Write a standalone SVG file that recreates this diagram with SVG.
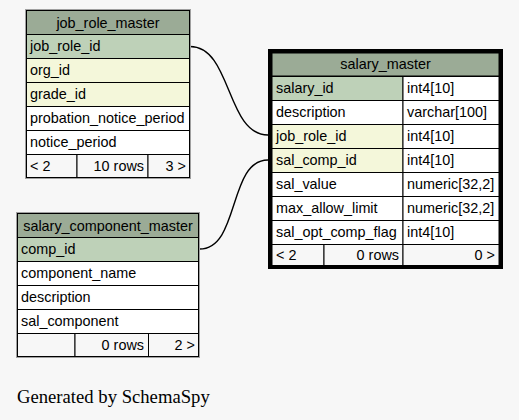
<svg xmlns="http://www.w3.org/2000/svg" width="519" height="420" viewBox="0 0 519 420">
<style>
.t{font-family:"Liberation Sans",Arial,sans-serif;font-size:14.4px;fill:#000}
.c{text-anchor:middle}
.r{text-anchor:end}
.hd{fill:#9bab96}
.pk{fill:#bed1b8}
.fk{fill:#f4f7da}
.wt{fill:#ffffff}
.ft{fill:#f7f7f7}
.cell{stroke:#000;stroke-width:1}
.outer{fill:none;stroke:#a0a0a0;stroke-width:1}
.focus{fill:none;stroke:#000;stroke-width:4}
.edge{fill:none;stroke:#000;stroke-width:1.4}
.gen{font-family:"Liberation Serif","Times New Roman",serif;font-size:18.67px;fill:#000}
</style>
<rect x="0" y="0" width="519" height="420" fill="#f7f7f7"/>

<g id="connectors">
<path class="edge" d="M190,46.5 C232,46.5 226,135 268,135"/>
<path class="edge" d="M199.5,249 C240,249 228,160 268,160"/>
</g>

<g id="job_role_master">
<rect class="outer" x="25.5" y="9.5" width="165" height="169"/>
<g class="cell">
<rect class="hd" x="26.5" y="10.5" width="163" height="24"/>
<rect class="pk" x="26.5" y="34.5" width="163" height="24"/>
<rect class="fk" x="26.5" y="58.5" width="163" height="24"/>
<rect class="fk" x="26.5" y="82.5" width="163" height="24"/>
<rect class="wt" x="26.5" y="106.5" width="163" height="24"/>
<rect class="wt" x="26.5" y="130.5" width="163" height="24"/>
<rect class="ft" x="26.5" y="154.5" width="50.5" height="23"/>
<rect class="ft" x="77" y="154.5" width="71" height="23"/>
<rect class="ft" x="148" y="154.5" width="41.5" height="23"/>
</g>
<text class="t c" x="108" y="27.5">job_role_master</text>
<text class="t" x="30" y="51">job_role_id</text>
<text class="t" x="30" y="75">org_id</text>
<text class="t" x="30" y="99">grade_id</text>
<text class="t" x="30" y="123">probation_notice_period</text>
<text class="t" x="30" y="147">notice_period</text>
<text class="t" x="30" y="171">&lt; 2</text>
<text class="t r" x="144" y="171">10 rows</text>
<text class="t r" x="186" y="171">3 &gt;</text>
</g>

<g id="salary_master">
<g class="cell">
<rect class="hd" x="272" y="53" width="227" height="23"/>
<rect class="pk" x="272" y="76.5" width="131" height="24"/>
<rect class="wt" x="403" y="76.5" width="96" height="24"/>
<rect class="wt" x="272" y="100.5" width="131" height="24"/>
<rect class="wt" x="403" y="100.5" width="96" height="24"/>
<rect class="fk" x="272" y="124.5" width="131" height="24"/>
<rect class="wt" x="403" y="124.5" width="96" height="24"/>
<rect class="fk" x="272" y="148.5" width="131" height="24"/>
<rect class="wt" x="403" y="148.5" width="96" height="24"/>
<rect class="wt" x="272" y="172.5" width="131" height="24"/>
<rect class="wt" x="403" y="172.5" width="96" height="24"/>
<rect class="wt" x="272" y="196.5" width="131" height="24"/>
<rect class="wt" x="403" y="196.5" width="96" height="24"/>
<rect class="wt" x="272" y="220.5" width="131" height="24"/>
<rect class="wt" x="403" y="220.5" width="96" height="24"/>
<rect class="ft" x="272" y="244.5" width="52" height="21"/>
<rect class="ft" x="324" y="244.5" width="79" height="21"/>
<rect class="ft" x="403" y="244.5" width="96" height="21"/>
</g>
<rect class="focus" x="270" y="51" width="231" height="216"/>
<text class="t c" x="385.5" y="69">salary_master</text>
<text class="t" x="276" y="93">salary_id</text>
<text class="t" x="407" y="93">int4[10]</text>
<text class="t" x="276" y="117">description</text>
<text class="t" x="407" y="117">varchar[100]</text>
<text class="t" x="276" y="141">job_role_id</text>
<text class="t" x="407" y="141">int4[10]</text>
<text class="t" x="276" y="165">sal_comp_id</text>
<text class="t" x="407" y="165">int4[10]</text>
<text class="t" x="276" y="189">sal_value</text>
<text class="t" x="407" y="189">numeric[32,2]</text>
<text class="t" x="276" y="213">max_allow_limit</text>
<text class="t" x="407" y="213">numeric[32,2]</text>
<text class="t" x="276" y="237">sal_opt_comp_flag</text>
<text class="t" x="407" y="237">int4[10]</text>
<text class="t" x="276" y="260">&lt; 2</text>
<text class="t r" x="399" y="260">0 rows</text>
<text class="t r" x="495" y="260">0 &gt;</text>
</g>

<g id="salary_component_master">
<rect class="outer" x="16.5" y="212.5" width="183" height="145"/>
<g class="cell">
<rect class="hd" x="17.5" y="213.5" width="181" height="24"/>
<rect class="pk" x="17.5" y="237.5" width="181" height="24"/>
<rect class="wt" x="17.5" y="261.5" width="181" height="24"/>
<rect class="wt" x="17.5" y="285.5" width="181" height="24"/>
<rect class="wt" x="17.5" y="309.5" width="181" height="24"/>
<rect class="ft" x="17.5" y="333.5" width="57.5" height="23"/>
<rect class="ft" x="75" y="333.5" width="73.5" height="23"/>
<rect class="ft" x="148.5" y="333.5" width="50" height="23"/>
</g>
<text class="t c" x="108" y="230.5">salary_component_master</text>
<text class="t" x="21" y="254">comp_id</text>
<text class="t" x="21" y="278">component_name</text>
<text class="t" x="21" y="302">description</text>
<text class="t" x="21" y="326">sal_component</text>
<text class="t r" x="144" y="350">0 rows</text>
<text class="t r" x="195" y="350">2 &gt;</text>
</g>

<text class="gen" x="17" y="403">Generated by SchemaSpy</text>
</svg>
